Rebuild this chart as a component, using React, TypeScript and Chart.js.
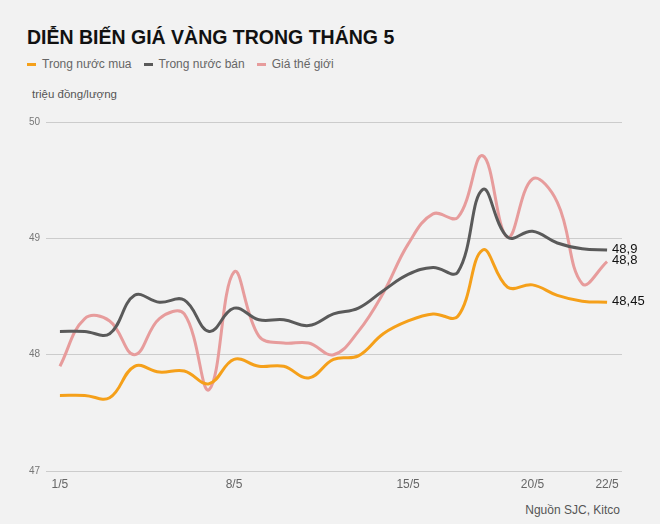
import React, { useEffect, useRef } from "react";
import { Chart, registerables } from "chart.js";

Chart.register(...registerables);

const tickIndex = [0, 7, 14, 19, 22];
const tickLabels = ["1/5", "8/5", "15/5", "20/5", "22/5"];

const seriesNames = ["Trong nước mua", "Trong nước bán", "Giá thế giới"];
const seriesColors = ["#f5a01a", "#5a5a5a", "#e79c9c"];

const buyDomestic = [47.65, 47.65, 47.63, 47.9, 47.85, 47.86, 47.75, 47.96, 47.9, 47.9, 47.8, 47.96, 47.99, 48.18, 48.29, 48.35, 48.33, 48.9, 48.58, 48.6, 48.51, 48.46, 48.45];
const sellDomestic = [48.2, 48.2, 48.18, 48.51, 48.45, 48.47, 48.2, 48.4, 48.3, 48.3, 48.25, 48.35, 48.4, 48.55, 48.69, 48.75, 48.71, 49.42, 49.01, 49.06, 48.96, 48.91, 48.9];
const worldPrice = [47.9, 48.31, 48.29, 48.0, 48.31, 48.35, 47.7, 48.71, 48.16, 48.1, 48.1, 48.0, 48.2, 48.53, 48.95, 49.21, 49.18, 49.71, 49.01, 49.51, 49.31, 48.61, 48.8];

const allSeries = [buyDomestic, sellDomestic, worldPrice];

const FONT = "Arial, 'Liberation Sans', sans-serif";

const endLabelPlugin = {
  id: "endLabels",
  afterDatasetsDraw(chart: any) {
    const ctx = chart.ctx;
    ctx.save();
    ctx.font = `13px ${FONT}`;
    ctx.fillStyle = "#111";
    ctx.textAlign = "left";
    ctx.textBaseline = "middle";
    chart.data.datasets.forEach((ds: any, i: number) => {
      const meta = chart.getDatasetMeta(i);
      const pts = meta.data;
      const last = pts[pts.length - 1];
      const v = ds.data[ds.data.length - 1].y;
      const txt = String(v).replace(".", ",");
      ctx.fillText(txt, last.x + 5, last.y - 1);
    });
    ctx.restore();
  },
};

function GoldChart() {
  const ref = useRef<HTMLCanvasElement | null>(null);
  useEffect(() => {
    if (!ref.current) return;
    const chart = new Chart(ref.current, {
      type: "line",
      data: {
        datasets: allSeries.map((s, i) => ({
          label: seriesNames[i],
          data: s.map((v, j) => ({ x: j, y: v })),
          borderColor: seriesColors[i],
          backgroundColor: seriesColors[i],
          borderWidth: 3,
          pointRadius: 0,
          tension: 0.4,
          fill: false,
        })),
      },
      options: {
        animation: false,
        responsive: false,
        maintainAspectRatio: false,
        layout: { padding: { top: 2, right: 38, left: 0, bottom: 0 } },
        plugins: {
          legend: { display: false },
          tooltip: { enabled: false },
          title: { display: false },
        },
        scales: {
          x: {
            type: "linear",
            min: -0.56,
            max: 22.6,
            grid: { display: false, drawTicks: false },
            border: { display: false },
            afterBuildTicks: (scale: any) => {
              scale.ticks = tickIndex.map((v) => ({ value: v }));
            },
            afterFit: (scale: any) => {
              scale.height = 30;
            },
            ticks: {
              autoSkip: false,
              maxRotation: 0,
              padding: 6,
              color: "#666",
              font: { family: FONT, size: 12 },
              callback: (v: any) => {
                const k = tickIndex.indexOf(Number(v));
                return k >= 0 ? tickLabels[k] : "";
              },
            },
          },
          y: {
            min: 47,
            max: 50,
            grid: { color: "#cccccc", lineWidth: 1, drawTicks: false },
            border: { display: false },
            afterFit: (scale: any) => {
              scale.width = 46;
            },
            ticks: {
              stepSize: 1,
              padding: 6,
              color: "#777",
              font: { family: FONT, size: 10 },
            },
          },
        },
      },
      plugins: [endLabelPlugin],
    });
    return () => chart.destroy();
  }, []);
  return (
    <canvas
      ref={ref}
      width={660}
      height={391}
      style={{ position: "absolute", left: 0, top: 110, width: 660, height: 391 }}
    />
  );
}

export default function App() {
  useEffect(() => {
    document.body.style.margin = "0";
  }, []);
  return (
    <div
      style={{
        position: "fixed",
        left: 0,
        top: 0,
        width: 660,
        height: 524,
        background: "#f2f2f2",
        fontFamily: FONT,
        overflow: "hidden",
      }}
    >
      <div
        style={{
          position: "absolute",
          left: 27,
          top: 25,
          fontSize: 19.5,
          fontWeight: "bold",
          color: "#111",
          whiteSpace: "nowrap",
          lineHeight: "24px",
        }}
      >
        DIỄN BIẾN GIÁ VÀNG TRONG THÁNG 5
      </div>
      <div
        style={{
          position: "absolute",
          left: 27,
          top: 56,
          display: "flex",
          alignItems: "center",
          fontSize: 12,
          color: "#666",
          lineHeight: "16px",
          whiteSpace: "nowrap",
        }}
      >
        {seriesNames.map((n, i) => (
          <div key={n} style={{ display: "flex", alignItems: "center", marginRight: 12 }}>
            <span
              style={{
                display: "inline-block",
                width: 9,
                height: 3,
                background: seriesColors[i],
                marginRight: 6,
              }}
            />
            <span>{n}</span>
          </div>
        ))}
      </div>
      <div
        style={{
          position: "absolute",
          left: 32,
          top: 87,
          fontSize: 11.5,
          color: "#555",
          lineHeight: "14px",
          whiteSpace: "nowrap",
        }}
      >
        triệu đồng/lượng
      </div>
      <GoldChart />
      <div
        style={{
          position: "absolute",
          right: 40,
          top: 503,
          fontSize: 12,
          color: "#555",
          lineHeight: "14px",
          whiteSpace: "nowrap",
        }}
      >
        Nguồn SJC, Kitco
      </div>
    </div>
  );
}
